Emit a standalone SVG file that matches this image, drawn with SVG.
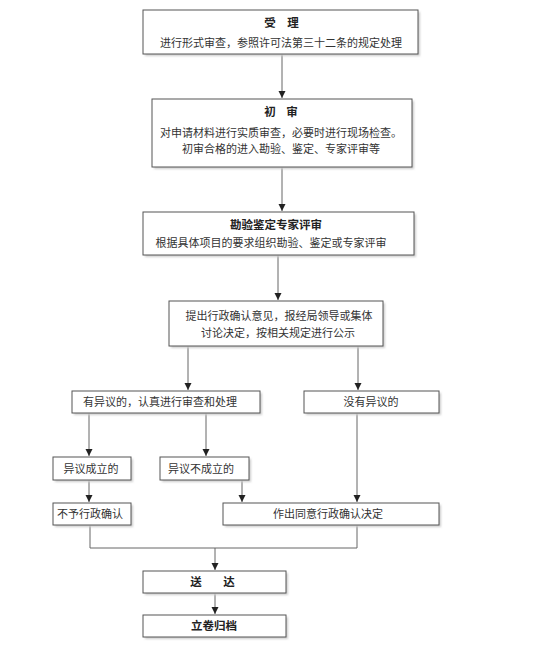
<svg xmlns="http://www.w3.org/2000/svg" width="554" height="651" viewBox="0 0 554 651">
<defs>
<marker id="ah" markerWidth="8" markerHeight="8" refX="7" refY="4" orient="auto" markerUnits="userSpaceOnUse">
<path d="M0,0.5 L7,4 L0,7.5 Z" fill="#222"/>
</marker>
<filter id="sh" x="-5%" y="-5%" width="115%" height="130%">
<feGaussianBlur stdDeviation="1"/>
</filter>
</defs>
<style>
.box{fill:#fff;stroke:#555;stroke-width:1}
.shd{fill:#ccc;filter:url(#sh)}
.t{font-family:"Liberation Sans","Noto Sans CJK SC",sans-serif;font-size:11px;fill:#333;text-anchor:middle}
.b{font-weight:bold;font-size:11.5px;fill:#222}
.c{fill:none;stroke:#666;stroke-width:1}
.a{marker-end:url(#ah)}
</style>
<rect width="554" height="651" fill="#fff"/>
<g id="connectors">
<line class="c a" x1="282" y1="54" x2="282" y2="98"/>
<line class="c a" x1="282" y1="167" x2="282" y2="211"/>
<line class="c a" x1="278" y1="255" x2="278" y2="300"/>
<line class="c a" x1="188" y1="346" x2="188" y2="390"/>
<line class="c a" x1="358" y1="346" x2="358" y2="390"/>
<line class="c a" x1="89" y1="413" x2="89" y2="456"/>
<line class="c a" x1="206" y1="413" x2="206" y2="456"/>
<line class="c a" x1="357" y1="413" x2="357" y2="502"/>
<line class="c a" x1="89" y1="480" x2="89" y2="502"/>
<line class="c a" x1="242" y1="480" x2="242" y2="502"/>
<polyline class="c" points="90,525 90,548 357,548 357,525"/>
<line class="c a" x1="215" y1="548" x2="215" y2="570"/>
<line class="c a" x1="215" y1="593" x2="215" y2="614"/>
</g>
<g id="n1">
<rect class="shd" x="145" y="12" width="275" height="44"/>
<rect class="box" x="143" y="10" width="275" height="44"/>
<text class="t b" x="270" y="27">受</text>
<text class="t b" x="293" y="27">理</text>
<text class="t" x="281" y="47">进行形式审查，参照许可法第三十二条的规定处理</text>
</g>
<g id="n2">
<rect class="shd" x="154" y="101" width="260" height="68"/>
<rect class="box" x="152" y="99" width="260" height="68"/>
<text class="t b" x="270" y="116">初</text>
<text class="t b" x="292" y="116">审</text>
<text class="t" x="281" y="137">对申请材料进行实质审查，必要时进行现场检查。</text>
<text class="t" x="281" y="153">初审合格的进入勘验、鉴定、专家评审等</text>
</g>
<g id="n3">
<rect class="shd" x="145" y="214" width="271" height="43"/>
<rect class="box" x="143" y="212" width="271" height="43"/>
<text class="t b" x="276" y="229">勘验鉴定专家评审</text>
<text class="t" x="271" y="247">根据具体项目的要求组织勘验、鉴定或专家评审</text>
</g>
<g id="n4">
<rect class="shd" x="171" y="303" width="214" height="45"/>
<rect class="box" x="169" y="301" width="214" height="45"/>
<text class="t" x="279" y="320">提出行政确认意见，报经局领导或集体</text>
<text class="t" x="278" y="337">讨论决定，按相关规定进行公示</text>
</g>
<g id="n5">
<rect class="shd" x="74" y="393" width="188" height="22"/>
<rect class="box" x="72" y="391" width="188" height="22"/>
<text class="t" x="160" y="406">有异议的，认真进行审查和处理</text>
</g>
<g id="n6">
<rect class="shd" x="306" y="393" width="135" height="22"/>
<rect class="box" x="304" y="391" width="135" height="22"/>
<text class="t" x="371" y="406">没有异议的</text>
</g>
<g id="n7">
<rect class="shd" x="55" y="459" width="78" height="23"/>
<rect class="box" x="53" y="457" width="78" height="23"/>
<text class="t" x="91" y="473">异议成立的</text>
</g>
<g id="n8">
<rect class="shd" x="162" y="459" width="89" height="23"/>
<rect class="box" x="160" y="457" width="89" height="23"/>
<text class="t" x="201" y="473">异议不成立的</text>
</g>
<g id="n9">
<rect class="shd" x="55" y="505" width="78" height="22"/>
<rect class="box" x="53" y="503" width="78" height="22"/>
<text class="t" x="90" y="518">不予行政确认</text>
</g>
<g id="n10">
<rect class="shd" x="225" y="505" width="216" height="22"/>
<rect class="box" x="223" y="503" width="216" height="22"/>
<text class="t" x="328" y="518">作出同意行政确认决定</text>
</g>
<g id="n11">
<rect class="shd" x="145" y="573" width="143" height="22"/>
<rect class="box" x="143" y="571" width="143" height="22"/>
<text class="t b" x="196" y="586">送</text>
<text class="t b" x="229" y="586">达</text>
</g>
<g id="n12">
<rect class="shd" x="145" y="617" width="143" height="22"/>
<rect class="box" x="143" y="615" width="143" height="22"/>
<text class="t b" x="214" y="630">立卷归档</text>
</g>
</svg>
